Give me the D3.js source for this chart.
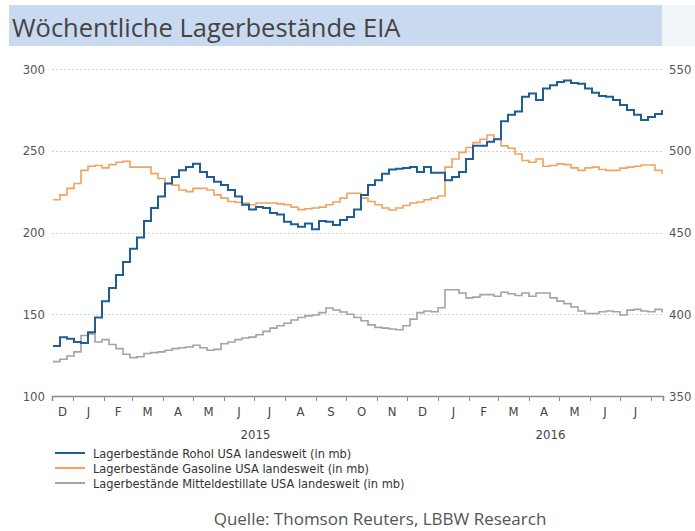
<!DOCTYPE html>
<html>
<head>
<meta charset="utf-8">
<script src="https://cdn.jsdelivr.net/npm/d3@7"></script>
<style>
  body { margin: 0; background: #fff; }
  text { font-family: "Liberation Sans Narrow", "DejaVu Sans Condensed", "Open Sans", sans-serif; }
</style>
</head>
<body>
<div id="wrapper"></div>
<script>
// weekly EIA data, first week ending 12.12.2014
const firstWeek = new Date(2014, 11, 12);

// crude oil, right axis (mb)
const crude = [380.6, 386, 385, 383, 382.4, 389, 398, 408, 416, 424, 432, 440, 447, 457, 465, 472, 480, 484, 488, 490,
    492, 487, 484, 481, 479, 476, 472, 467, 464, 465.6, 465, 462, 461, 456.5, 455, 453.5, 455.5, 452, 457, 456.5,
    454.6, 457.6, 459.5, 464, 473, 479, 482, 486, 488.5, 489, 489.5, 490, 487, 490, 486.5, 486.5, 482, 484, 487, 495,
    503, 503, 505.5, 507, 518, 522, 524, 533, 535, 531, 538, 540, 542, 543, 541.4, 541, 538, 535.5, 533.5, 533,
    531, 528, 525, 522, 518.8, 520.6, 522.5, 525];

// gasoline, left axis (mb)
const gasoline = [220, 223, 227, 230, 238, 240.5, 241, 239.5, 241.5, 243, 243.5, 240, 240, 240, 236, 233, 230, 229, 226, 225,
    227, 227, 226, 223, 221, 219, 218.5, 218, 217, 218, 218, 218, 217.5, 217, 215.5, 214, 214.5, 215, 215.5, 217,
    218.7, 221, 224, 224, 221, 219, 217, 215, 213.8, 215, 216.5, 218, 218.7, 220, 221, 222.3, 240, 245, 249, 252,
    255, 257, 259.6, 257, 253, 251.5, 248, 244, 243, 245, 240.5, 241, 242, 241.5, 239.5, 238, 239.5, 240, 238.5, 238,
    238, 239.4, 240, 240.5, 241.3, 241.3, 238, 236];

// middle distillates, left axis (mb)
const distillates = [121, 122.5, 124.5, 127, 137, 138, 133, 134.5, 131.5, 129, 125.5, 123.5, 124, 126, 126.5, 127, 128, 129, 129.5, 130,
    131, 129.5, 128, 128.5, 132, 133, 134.5, 135.5, 136, 137.5, 139.5, 141.5, 143, 144.5, 146.5, 148, 149, 149.5, 151, 153.8,
    152.6, 151.4, 150, 148, 146, 143.5, 142, 141.5, 141, 140.5, 143, 147, 151, 152, 151.5, 154, 165, 165, 163, 160,
    160.5, 162, 162, 161, 163.5, 162.5, 161.5, 163, 161, 163, 163, 160, 158, 156.5, 154.4, 152, 150.5, 150.5, 151.5, 152,
    151.5, 149.5, 152.5, 153, 152, 151.5, 153, 151];

const leftTicks = [100, 150, 200, 250, 300];
const rightTicks = [350, 400, 450, 500, 550];
const monthLetters = ['J', 'F', 'M', 'A', 'M', 'J', 'J', 'A', 'S', 'O', 'N', 'D'];
const years = [2015, 2016];
const legendLabels = [
    'Lagerbestände Rohol USA landesweit (in mb)',
    'Lagerbestände Gasoline USA landesweit (in mb)',
    'Lagerbestände Mitteldestillate USA landesweit (in mb)'
];
const colors = ['#1f5d95', '#f4a25d', '#a3a3a3'];

const W = 695, H = 531;
const svg = d3.select('#wrapper').append('svg')
    .attr('width', W).attr('height', H);

// title band
svg.append('rect').attr('x', 662).attr('y', 5).attr('width', 33).attr('height', 41).attr('fill', '#f1f4f9');
svg.append('rect').attr('x', 9).attr('y', 5).attr('width', 653).attr('height', 41).attr('fill', '#c9d9ef');
svg.append('text').attr('x', 12).attr('y', 37)
    .style('font-family', '"Open Sans", sans-serif')
    .style('font-size', '25.5px').attr('fill', '#444')
    .text('Wöchentliche Lagerbestände EIA');

const start = new Date(2014, 11, 11), end = new Date(2016, 7, 13);
const x = d3.scaleTime().domain([start, end]).range([52, 663]);
const yL = d3.scaleLinear().domain([100, 300]).range([396, 69]);
const yR = d3.scaleLinear().domain([350, 550]).range([396, 69]);

const dates = crude.map((d, i) => d3.timeDay.offset(firstWeek, 7 * i));

// grid
svg.append('g').selectAll('line')
    .data(leftTicks.slice(1))
    .enter().append('line')
    .attr('x1', 52).attr('x2', 663)
    .attr('y1', d => Math.round(yL(d)) + 0.5).attr('y2', d => Math.round(yL(d)) + 0.5)
    .attr('stroke', '#d4d4d4').attr('stroke-dasharray', '2,2');

// left axis labels
svg.append('g').selectAll('text')
    .data(leftTicks).enter().append('text')
    .attr('x', 45).attr('y', d => yL(d) + 4.5)
    .attr('text-anchor', 'end').attr('fill', '#555')
    .style('font-size', '13px').text(d => d);

// right axis labels
svg.append('g').selectAll('text')
    .data(rightTicks).enter().append('text')
    .attr('x', 669).attr('y', d => yR(d) + 4.5)
    .attr('fill', '#555')
    .style('font-size', '13px').text(d => d);

// x axis
const monthTicks = d3.timeMonth.range(new Date(2015, 0, 1), new Date(2016, 7, 2));
const xAxis = svg.append('g')
    .attr('transform', 'translate(0,396)')
    .call(d3.axisBottom(x).tickValues(monthTicks).tickSize(5).tickFormat(''));
xAxis.select('.domain').attr('stroke', '#8a8a8a').attr('stroke-width', 1.5);
xAxis.selectAll('.tick line').attr('stroke', '#8a8a8a');

const months = d3.timeMonth.range(new Date(2014, 11, 1), new Date(2016, 7, 1));
svg.append('g').selectAll('text')
    .data(months).enter().append('text')
    .attr('x', d => {
        const a = d < start ? start : d;
        const b = d3.timeMonth.offset(d, 1);
        return (x(a) + x(b > end ? end : b)) / 2;
    })
    .attr('y', 416)
    .attr('text-anchor', 'middle').attr('fill', '#444')
    .style('font-size', '13px')
    .text(d => monthLetters[d.getMonth()]);

svg.append('g').selectAll('text')
    .data(years).enter().append('text')
    .attr('x', d => {
        const a = new Date(d, 0, 1), b = new Date(d + 1, 0, 1);
        return (x(a) + x(b > end ? end : b)) / 2;
    })
    .attr('y', 439)
    .attr('text-anchor', 'middle').attr('fill', '#444')
    .style('font-size', '13px')
    .text(d => d);

// lines
const lineL = d3.line().x((d, i) => x(dates[i])).y(d => yL(d)).curve(d3.curveStepAfter);
const lineR = d3.line().x((d, i) => x(dates[i])).y(d => yR(d)).curve(d3.curveStepAfter);

svg.append('path').datum(distillates).attr('d', lineL)
    .attr('fill', 'none').attr('stroke', colors[2]).attr('stroke-width', 1.6);
svg.append('path').datum(gasoline).attr('d', lineL)
    .attr('fill', 'none').attr('stroke', colors[1]).attr('stroke-width', 1.6);
svg.append('path').datum(crude).attr('d', lineR)
    .attr('fill', 'none').attr('stroke', colors[0]).attr('stroke-width', 2);

// legend
const legend = svg.append('g').selectAll('g')
    .data(legendLabels).enter().append('g')
    .attr('transform', (d, i) => 'translate(55,' + (453 + i * 15) + ')');
legend.append('line').attr('x1', 0).attr('x2', 30)
    .attr('stroke', (d, i) => colors[i]).attr('stroke-width', 2);
legend.append('text').attr('x', 38).attr('y', 4.5)
    .attr('fill', '#333').style('font-size', '12.7px')
    .text(d => d);

// source
svg.append('text').attr('x', 380).attr('y', 525)
    .attr('text-anchor', 'middle').attr('fill', '#555')
    .style('font-family', '"Open Sans", sans-serif')
    .style('font-size', '17px')
    .text('Quelle: Thomson Reuters, LBBW Research');
</script>
</body>
</html>
